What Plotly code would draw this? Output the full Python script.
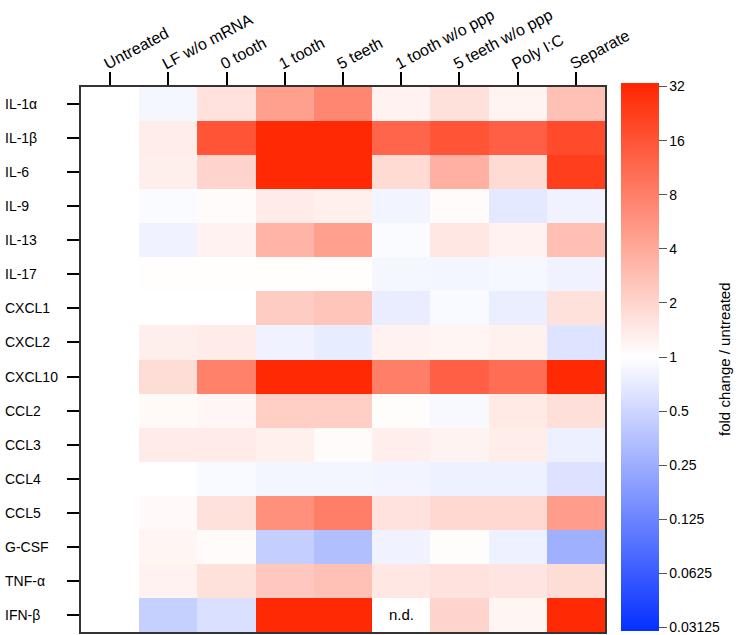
import numpy as np
import plotly.graph_objects as go

conditions = ["Untreated", "LF w/o mRNA", "0 tooth", "1 tooth", "5 teeth",
              "1 tooth w/o ppp", "5 teeth w/o ppp", "Poly I:C", "Separate"]
cytokines = ["IL-1α", "IL-1β", "IL-6", "IL-9", "IL-13", "IL-17", "CXCL1", "CXCL2",
             "CXCL10", "CCL2", "CCL3", "CCL4", "CCL5", "G-CSF", "TNF-α", "IFN-β"]

# log2 fold change / untreated (None = n.d.)
il1a   = [0, -0.2, 0.67, 2.25, 2.8, 0.3, 0.7, 0.25, 1.45]
il1b   = [0, 0.43, 4.0, 5.0, 5.0, 3.6, 4.0, 3.7, 4.2]
il6    = [0, 0.37, 1.0, 5.0, 5.0, 0.85, 1.85, 0.85, 4.5]
il9    = [0, -0.1, 0.1, 0.45, 0.35, -0.27, 0.1, -0.53, -0.3]
il13   = [0, -0.3, 0.3, 1.75, 2.25, -0.1, 0.53, 0.3, 1.5]
il17   = [0, 0.03, 0.03, 0.03, 0.03, -0.2, -0.23, -0.18, -0.3]
cxcl1  = [0, 0, 0, 1.2, 1.35, -0.45, -0.12, -0.42, 0.7]
cxcl2  = [0, 0.37, 0.45, -0.3, -0.47, 0.3, 0.24, 0.33, -0.67]
cxcl10 = [0, 0.8, 2.95, 5.0, 5.0, 3.0, 3.7, 3.4, 5.0]
ccl2   = [0, 0.15, 0.2, 1.15, 1.15, 0.05, -0.15, 0.5, 0.75]
ccl3   = [0, 0.45, 0.45, 0.35, 0.1, 0.4, 0.27, 0.43, -0.37]
ccl4   = [0, 0, -0.13, -0.22, -0.25, -0.27, -0.35, -0.35, -0.7]
ccl5   = [0, 0.12, 0.7, 2.6, 3.0, 0.67, 0.92, 0.92, 2.3]
gcsf   = [0, 0.24, 0.1, -1.18, -1.57, -0.3, 0.05, -0.35, -1.94]
tnfa   = [0, 0.3, 0.7, 1.3, 1.45, 0.53, 0.67, 0.6, 0.8]
ifnb   = [0, -1.16, -0.75, 5.0, 5.0, None, 1.0, 0.24, 5.0]

rows = [il1a, il1b, il6, il9, il13, il17, cxcl1, cxcl2, cxcl10, ccl2, ccl3, ccl4,
        ccl5, gcsf, tnfa, ifnb]
z = [[np.nan if v is None else v for v in r] for r in rows]

cbar_vals = [-5, -4, -3, -2, -1, 0, 1, 2, 3, 4, 5]
cbar_text = ["0.03125", "0.0625", "0.125", "0.25", "0.5", "1", "2", "4", "8", "16", "32"]
cbar_title = "fold change / untreated"

FONT = "Liberation Sans, Arial, sans-serif"
ZLIM = 5.065

fig = go.Figure(go.Heatmap(
    z=z, x=conditions, y=cytokines,
    zmin=-ZLIM, zmax=ZLIM,
    colorscale=[[0, "rgb(5,48,255)"], [0.5, "rgb(255,255,255)"], [1, "rgb(255,38,0)"]],
    hoverongaps=False,
    colorbar=dict(
        tickvals=cbar_vals, ticktext=cbar_text,
        thickness=38, lenmode="pixels", len=548, y=1.0073, yanchor="top", ypad=0,
        x=1.0305, xanchor="left", xpad=0,
        outlinewidth=0, ticks="outside", ticklen=8, tickcolor="#555", tickwidth=1,
        ticklabeloverflow="allow",
        tickfont=dict(family=FONT, size=14, color="black"),
    ),
))

# colorbar title
fig.add_annotation(x=1.228, xref="paper", y=0.5, yref="paper", text=cbar_title,
                   textangle=-90, showarrow=False, xanchor="center", yanchor="middle",
                   font=dict(family=FONT, size=15, color="black"))

# row labels, left aligned
for name in cytokines:
    fig.add_annotation(x=-0.149, xref="paper", y=name, yref="y", text=name,
                       xanchor="left", showarrow=False,
                       font=dict(family=FONT, size=14, color="black"))

# n.d. marker for missing value
for i, r in enumerate(rows):
    for j, v in enumerate(r):
        if v is None:
            fig.add_annotation(x=conditions[j], y=cytokines[i], text="n.d.",
                               showarrow=False, font=dict(family=FONT, size=15, color="black"))

fig.update_xaxes(side="top", tickangle=-28, ticks="outside", ticklen=13, tickwidth=2,
                 tickcolor="black", showline=True, linecolor="#333", linewidth=2,
                 mirror=True, showgrid=False, zeroline=False, automargin=False,
                 ticklabelstandoff=-5, ticklabelshift=-6,
                 tickfont=dict(family=FONT, size=16, color="black"))
fig.update_yaxes(autorange="reversed", ticks="outside", ticklen=12, tickwidth=2,
                 tickcolor="black", showline=True, linecolor="#333", linewidth=2,
                 mirror=True, showgrid=False, zeroline=False, automargin=False,
                 showticklabels=False)

fig.update_layout(
    width=745, height=635,
    margin=dict(l=81, r=140, t=87, b=3),
    paper_bgcolor="white", plot_bgcolor="white",
    font=dict(family=FONT, size=14, color="black"),
)

fig.write_html("out.html", config={"displayModeBar": False},
               post_script="document.body.style.margin='0px';"
                           "document.body.style.overflow='hidden';")
